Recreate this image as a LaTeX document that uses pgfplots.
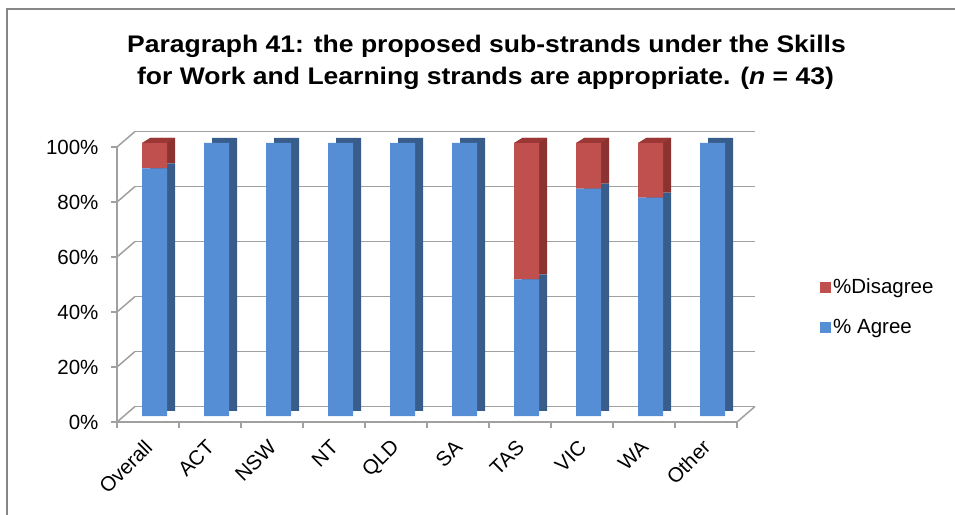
\documentclass[border=0pt]{standalone}
\usepackage{pgfplots}
\pgfplotsset{compat=1.18}
\usepackage{pgfplotstable}
\usepackage{fontspec}
\setmainfont{Liberation Sans}
\definecolor{bluef}{RGB}{85,142,213}
\definecolor{blues}{RGB}{56,93,138}
\definecolor{redf}{RGB}{192,80,77}
\definecolor{reds}{RGB}{140,50,48}
\definecolor{redt}{RGB}{155,56,53}
\definecolor{gridc}{RGB}{160,160,160}
\definecolor{borderc}{RGB}{134,134,134}

\pgfdeclareplotmark{cap}{%
 \pgfpathmoveto{\pgfpoint{-12.5pt}{0pt}}%
 \pgfpathlineto{\pgfpoint{12.5pt}{0pt}}%
 \pgfpathlineto{\pgfpoint{20.5pt}{5pt}}%
 \pgfpathlineto{\pgfpoint{-4.5pt}{5pt}}%
 \pgfpathclose\pgfusepathqfill}

\pgfplotstableread{
x   agree disagree
0.5 90.7  9.3
1.5 100   0
2.5 100   0
3.5 100   0
4.5 100   0
5.5 100   0
6.5 50    50
7.5 83.3  16.7
8.5 80    20
9.5 100   0
}\datatable

\pgfplotsset{
 base/.style={scale only axis, width=620pt, xmin=0, xmax=10, ymin=0, ymax=100,
   anchor=south west, clip=false},
 bare/.style={axis line style={draw=none}, xtick=\empty, ytick=\empty},
}

\begin{document}
\begin{tikzpicture}[x=1pt,y=1pt]
\useasboundingbox (0,0) rectangle (955,514);
\draw[borderc, line width=1.5pt] (7,-10) -- (7,505) -- (965,505);

% back wall
\begin{axis}[base, height=275pt, at={(135pt,107.5pt)},
  axis line style={draw=none}, xtick=\empty, ytick={0,20,...,100},
  yticklabels={}, major tick length=0pt, ymajorgrids,
  grid style={gridc, line width=1.5pt}]
\end{axis}

% depth faces of bars
\begin{axis}[base, bare, height=273pt, at={(131.5pt,103pt)},
  ybar stacked, bar width=25pt]
\addplot[fill=blues, draw=none] table[x=x, y=agree] {\datatable};
\addplot[fill=reds, draw=none] table[x=x, y=disagree] {\datatable};
\end{axis}

% front faces of bars
\begin{axis}[base, bare, height=273pt, at={(123.5pt,98pt)},
  ybar stacked, bar width=25pt, reverse legend,
  legend style={draw=none, fill=none, at={(1.1234,0.399)}, anchor=west,
    inner sep=0pt, row sep=20pt, font=\fontsize{20.5}{24}\selectfont},
  legend cell align=left]
\addplot[fill=bluef, draw=none,
  legend image code/.code={\fill[bluef] (0pt,-5.5pt) rectangle (11pt,5.5pt);}]
  table[x=x, y=agree] {\datatable};
\addlegendentry{\% Agree}
\addplot[fill=redf, draw=none, mark=cap, mark options={fill=redt, draw=none},
  legend image code/.code={\fill[redf] (0pt,-5.5pt) rectangle (11pt,5.5pt);}]
  table[x=x, y=disagree] {\datatable};
\addlegendentry{\%Disagree}
\end{axis}

% front axis
\begin{axis}[base, height=275pt, at={(117pt,92pt)},
  axis x line*=bottom, axis y line*=left,
  axis line style={gridc, line width=1.5pt},
  xtick={0.5,1.5,...,9.5},
  xticklabels={Overall,ACT,NSW,NT,QLD,SA,TAS,VIC,WA,Other},
  xtick style={draw=none},
  ytick={0,20,...,100},
  yticklabels={0\%,20\%,40\%,60\%,80\%,100\%},
  ytick style={gridc, line width=1.5pt},
  major tick length=6pt, tick align=outside,
  yticklabel style={font=\fontsize{20.5}{24}\selectfont, xshift=-9pt},
  xticklabel style={font=\fontsize{20.5}{24}\selectfont, xshift=3pt, yshift=-13.4pt, rotate=45, anchor=east}]
\pgfplotsinvokeforeach{0,...,10}{\draw[gridc, line width=1.5pt] (axis cs:#1,0) -- ++(0,-6pt);}
\pgfplotsinvokeforeach{0,20,...,100}{\draw[gridc, line width=1.5pt] (axis cs:0,#1) -- ++(18pt,15.5pt);}
\draw[gridc, line width=1.5pt] (axis cs:10,0) -- ++(18pt,15.5pt);
\end{axis}

\node[anchor=base, inner sep=0pt, font=\fontsize{24}{28}\selectfont\bfseries] at (486.5,461.3) {\scalebox{1.105}[1]{Paragraph 41: the proposed sub-strands under the Skills}};
\node[anchor=base, inner sep=0pt, font=\fontsize{24}{28}\selectfont\bfseries] at (485.5,429.7) {\scalebox{1.105}[1]{for Work and Learning strands are appropriate. (\textit{n} = 43)}};
\end{tikzpicture}
\end{document}
